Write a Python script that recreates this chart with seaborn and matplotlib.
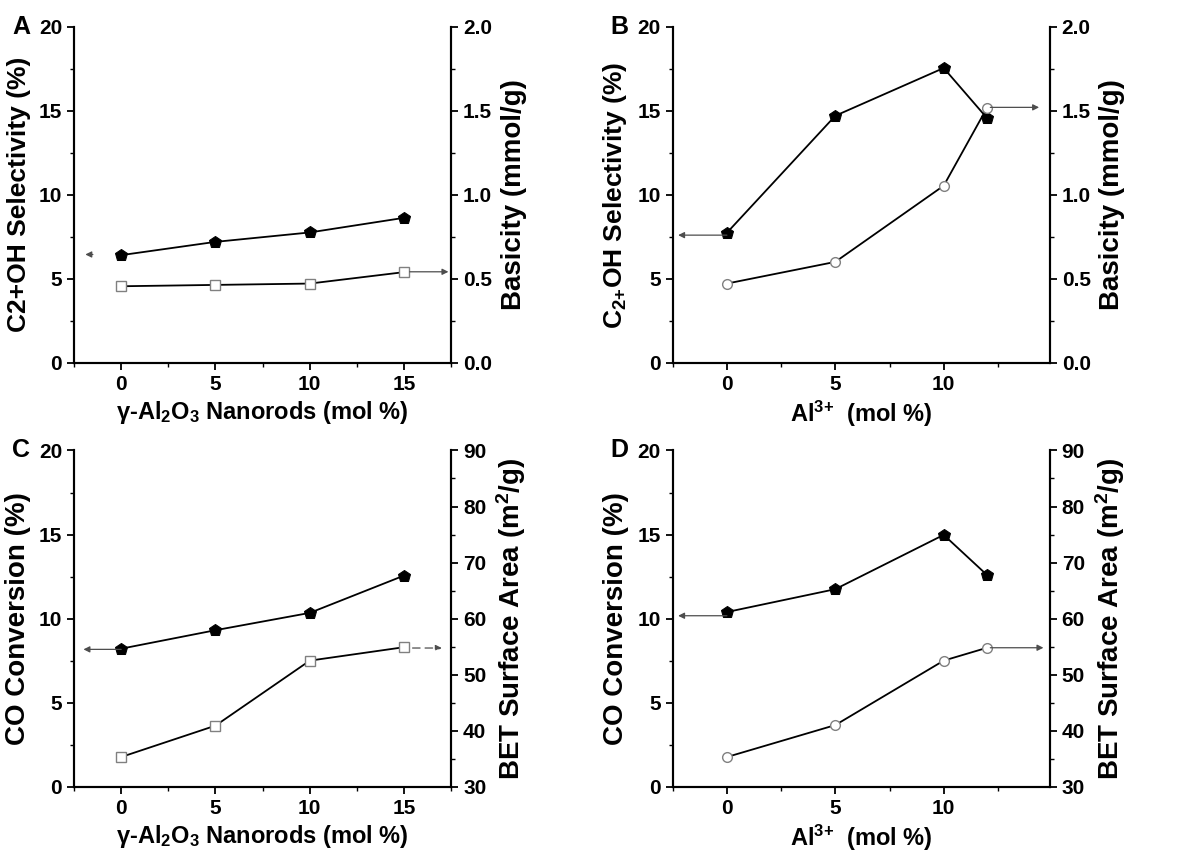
import matplotlib
matplotlib.use('Agg')
import matplotlib.pyplot as plt
from matplotlib.ticker import MultipleLocator
import seaborn as sns

sns.set_style('ticks')
plt.rcParams['font.family'] = ['Liberation Sans', 'DejaVu Sans']
plt.rcParams['font.weight'] = 'bold'
plt.rcParams['mathtext.fontset'] = 'custom'
for k in ['rm', 'it', 'bf', 'sf']:
    plt.rcParams['mathtext.' + k] = 'Liberation Sans:bold'
plt.rcParams['axes.linewidth'] = 1.5
for k in ['text.color', 'axes.labelcolor', 'axes.edgecolor',
          'xtick.color', 'ytick.color']:
    plt.rcParams[k] = 'black'

# data
x_rods = [0, 5, 10, 15]
x_al = [0, 5, 10, 12]

sel_rods = [6.41, 7.20, 7.76, 8.63]
basic_rods = [0.456, 0.464, 0.472, 0.540]
sel_al = [7.74, 14.70, 17.54, 14.56]
basic_al = [0.472, 0.601, 1.054, 1.518]

conv_rods = [8.21, 9.31, 10.34, 12.56]
bet_rods = [35.3, 40.9, 52.5, 54.9]
conv_al = [10.39, 11.75, 14.98, 12.59]
bet_al = [35.3, 41.0, 52.5, 54.8]

xlab_rods = r'$\gamma$-Al$_2$O$_3$ Nanorods (mol %)'
xlab_al = r'Al$^{3{+}}$  (mol %)'

fig = plt.figure(figsize=(11.9, 8.6), dpi=100)


def panel(rect, letter, x, left, right, xmax, xlabel, ylabel, ysize, rlabel,
          rlim, rmajor, rminor, rfmt, hollow, larrow, rarrow, rdash=False):
    ax = fig.add_axes(rect)
    sns.lineplot(x=x, y=left, ax=ax, color='black', lw=1.3, marker='p',
                 markersize=9, markerfacecolor='black', markeredgecolor='black')
    ax.set_xlim(-2.5, xmax)
    ax.set_ylim(0, 20)
    ax.xaxis.set_major_locator(MultipleLocator(5))
    ax.xaxis.set_minor_locator(MultipleLocator(2.5))
    ax.yaxis.set_major_locator(MultipleLocator(5))
    ax.yaxis.set_minor_locator(MultipleLocator(2.5))
    ax.spines['top'].set_visible(False)
    ax.set_xlabel(xlabel, fontsize=17, fontweight='bold', labelpad=4)
    ax.set_ylabel(ylabel, fontsize=ysize, fontweight='bold', labelpad=6)

    ax2 = ax.twinx()
    sns.lineplot(x=x, y=right, ax=ax2, color='black', lw=1.3, marker=hollow,
                 markersize=7, markerfacecolor='white', markeredgecolor='0.5',
                 markeredgewidth=1.0)
    ax2.set_ylim(*rlim)
    ax2.yaxis.set_major_locator(MultipleLocator(rmajor))
    ax2.yaxis.set_minor_locator(MultipleLocator(rminor))
    ax2.yaxis.set_major_formatter(rfmt)
    ax2.spines['top'].set_visible(False)
    ax2.set_ylabel(rlabel, fontsize=20, fontweight='bold', labelpad=6)

    for a in (ax, ax2):
        a.tick_params(which='major', direction='out', length=5, width=1.3,
                      labelsize=15)
        a.tick_params(which='minor', direction='out', length=3, width=1.0)
        for t in a.get_xticklabels() + a.get_yticklabels():
            t.set_fontweight('bold')

    (x0, x1, yl) = larrow
    ax.annotate('', xy=(x1, yl), xytext=(x0, yl),
                arrowprops=dict(arrowstyle='-|>', color='0.3', lw=0.9,
                                mutation_scale=9, shrinkA=0, shrinkB=0))
    (x0, x1, yr) = rarrow
    ax2.annotate('', xy=(x1, yr), xytext=(x0, yr),
                 arrowprops=dict(arrowstyle='-|>', color='0.3', lw=0.9,
                                 ls=(0, (6, 4)) if rdash else '-',
                                 mutation_scale=9, shrinkA=0, shrinkB=0))

    fig.text(rect[0] - 0.052, rect[1] + rect[3], letter, fontsize=18,
             fontweight='bold', va='center', ha='left')
    return ax, ax2


top_b, bot_b, h = 0.578, 0.0852, 0.391
w = 0.317

panel([0.0622, top_b, w, h], 'A', x_rods, sel_rods, basic_rods, 17.5,
      xlab_rods, 'C2+OH Selectivity (%)', 19, 'Basicity (mmol/g)',
      (0, 2.0), 0.5, 0.25, '{x:.1f}', 's',
      (-1.5, -1.9, 6.45), (15.3, 17.35, 0.542))

panel([0.5653, top_b, w, h], 'B', x_al, sel_al, basic_al, 14.9,
      xlab_al, r'C$_{2{+}}$OH Selectivity (%)', 19, 'Basicity (mmol/g)',
      (0, 2.0), 0.5, 0.25, '{x:.1f}', 'o',
      (0, -2.25, 7.6), (12.15, 14.4, 1.52))

panel([0.0622, bot_b, w, h], 'C', x_rods, conv_rods, bet_rods, 17.5,
      xlab_rods, 'CO Conversion (%)', 20, r'BET Surface Area (m$^2$/g)',
      (30, 90), 10, 5, '{x:.0f}', 's',
      (0, -2.0, 8.17), (15.45, 17.0, 54.75), rdash=True)

panel([0.5653, bot_b, w, h], 'D', x_al, conv_al, bet_al, 14.9,
      xlab_al, 'CO Conversion (%)', 20, r'BET Surface Area (m$^2$/g)',
      (30, 90), 10, 5, '{x:.0f}', 'o',
      (0, -2.25, 10.17), (12.15, 14.6, 54.8))

fig.savefig('out.png', dpi=100)
